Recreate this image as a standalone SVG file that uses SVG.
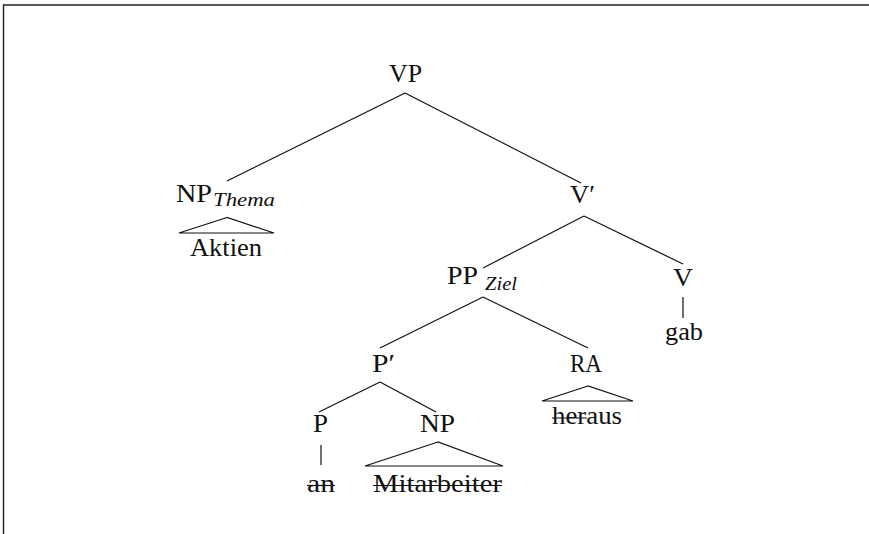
<svg xmlns="http://www.w3.org/2000/svg" width="869" height="534" viewBox="0 0 869 534">
<style>
text{font-family:"Liberation Serif","Times New Roman",serif;font-size:26px;fill:#111}
.sub{font-style:italic;font-size:18px}
.e{stroke:#111;stroke-width:1.2;fill:none}
.s{stroke:#111;stroke-width:1.2}
.tri{stroke:#111;stroke-width:1.2;fill:none;stroke-linejoin:miter}
</style>
<rect width="869" height="534" fill="#fff"/>
<path d="M3.5 534 V5 H869" fill="none" stroke="#222" stroke-width="1.4"/>
<g id="connectors" class="e">
<line x1="405" y1="93" x2="227" y2="181"/>
<line x1="405" y1="93" x2="581" y2="183"/>
<line x1="584" y1="216" x2="483" y2="268"/>
<line x1="584" y1="216" x2="683" y2="264"/>
<line x1="483" y1="297" x2="380" y2="348"/>
<line x1="483" y1="297" x2="588" y2="348"/>
<line x1="380" y1="382" x2="319" y2="412"/>
<line x1="380" y1="382" x2="436" y2="412"/>
<line x1="683" y1="297" x2="683" y2="318"/>
<line x1="321" y1="445" x2="321" y2="465"/>
</g>
<g id="n-VP"><text x="389" y="82" textLength="33" lengthAdjust="spacingAndGlyphs">VP</text></g>
<g id="n-NPThema">
<text x="176" y="202" textLength="36" lengthAdjust="spacingAndGlyphs">NP</text>
<text class="sub" x="213" y="206" textLength="62" lengthAdjust="spacingAndGlyphs">Thema</text>
</g>
<g id="n-Aktien">
<polygon class="tri" points="227,217.5 179,233 274,233"/>
<text x="190" y="256" textLength="72" lengthAdjust="spacingAndGlyphs">Aktien</text>
</g>
<g id="n-Vbar"><text x="570" y="203" textLength="25" lengthAdjust="spacingAndGlyphs">V′</text></g>
<g id="n-PPZiel">
<text x="447" y="284" textLength="31" lengthAdjust="spacingAndGlyphs">PP</text>
<text class="sub" x="485" y="290" textLength="32" lengthAdjust="spacingAndGlyphs">Ziel</text>
</g>
<g id="n-V"><text x="673" y="286" textLength="20" lengthAdjust="spacingAndGlyphs">V</text></g>
<g id="n-gab"><text x="665" y="340" textLength="38" lengthAdjust="spacingAndGlyphs">gab</text></g>
<g id="n-Pbar"><text x="372" y="372" textLength="23" lengthAdjust="spacingAndGlyphs">P′</text></g>
<g id="n-RA"><text x="570" y="372" textLength="32" lengthAdjust="spacingAndGlyphs">RA</text></g>
<g id="n-heraus">
<polygon class="tri" points="588,386 542,401 633,401"/>
<text x="552" y="424" textLength="70" lengthAdjust="spacingAndGlyphs">heraus</text>
<line class="s" x1="552" y1="418" x2="587" y2="418"/>
</g>
<g id="n-P"><text x="313" y="432" textLength="15" lengthAdjust="spacingAndGlyphs">P</text></g>
<g id="n-NP"><text x="420" y="432" textLength="35" lengthAdjust="spacingAndGlyphs">NP</text></g>
<g id="n-an">
<text x="307" y="492" textLength="28" lengthAdjust="spacingAndGlyphs">an</text>
<line class="s" x1="307" y1="485.5" x2="335" y2="485.5"/>
</g>
<g id="n-Mitarbeiter">
<polygon class="tri" points="438,442 365,466 503,466"/>
<text x="373" y="492" textLength="129" lengthAdjust="spacingAndGlyphs">Mitarbeiter</text>
<line class="s" x1="373" y1="485.5" x2="502" y2="485.5"/>
</g>
</svg>
